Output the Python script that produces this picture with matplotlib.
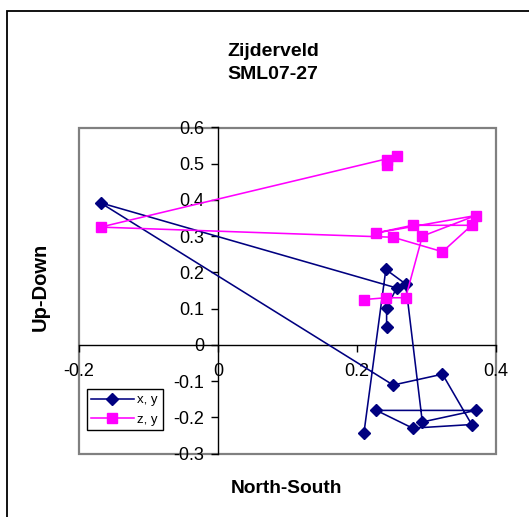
import matplotlib
matplotlib.use("Agg")
import matplotlib.pyplot as plt
from matplotlib.patches import Rectangle

plt.rcParams['font.family'] = ['Liberation Sans', 'DejaVu Sans']

# North-South component shared by both projections
north = [0.2426, 0.2426, 0.257, -0.169, 0.252, 0.323, 0.365, 0.280,
         0.228, 0.371, 0.294, 0.270, 0.2415, 0.210]
# x, y projection (horizontal)
east = [0.048, 0.102, 0.157, 0.392, -0.111, -0.081, -0.220, -0.230,
        -0.181, -0.181, -0.213, 0.168, 0.208, -0.243]
# z, y projection (vertical)
up = [0.496, 0.510, 0.520, 0.325, 0.297, 0.257, 0.330, 0.330,
      0.309, 0.357, 0.300, 0.130, 0.130, 0.125]

xticks = [-0.2, 0, 0.2, 0.4]
xlabels = ["-0.2", "0", "0.2", "0.4"]
yticks = [-0.3, -0.2, -0.1, 0, 0.1, 0.2, 0.3, 0.4, 0.5, 0.6]
ylabels = ["-0.3", "-0.2", "-0.1", "0", "0.1", "0.2", "0.3", "0.4", "0.5", "0.6"]

W, H = 529, 517
fig = plt.figure(figsize=(W / 100, H / 100), dpi=100)
ax = fig.add_axes([79 / W, 1 - 453.5 / H, (496 - 79) / W, (453.5 - 127.5) / H])

ax.plot(north, east, color='#000080', marker='D', markersize=5.8,
        linewidth=1.15, label='x, y', zorder=3)
ax.plot(north, up, color='#FF00FF', marker='s', markersize=7,
        linewidth=1.15, label='z, y', zorder=3)

ax.set_xlim(-0.2, 0.4)
ax.set_ylim(-0.3, 0.6)
ax.set_xticks(xticks)
ax.set_xticklabels(xlabels)
ax.set_yticks(yticks)
ax.set_yticklabels(ylabels)

ax.spines['left'].set_position(('data', 0))
ax.spines['bottom'].set_position(('data', 0))
ax.spines['top'].set_visible(False)
ax.spines['right'].set_visible(False)
for s in ['left', 'bottom']:
    ax.spines[s].set_color('black')
    ax.spines[s].set_linewidth(1.0)
    ax.spines[s].set_zorder(2)
ax.tick_params(axis='both', direction='out', length=5, width=1,
               labelsize=13, color='black')
ax.tick_params(axis='x', pad=8)
ax.tick_params(axis='y', pad=5)

# gray plot-area frame
ax.add_patch(Rectangle((0, 0), 1, 1, transform=ax.transAxes, fill=False,
                       edgecolor='#808080', linewidth=1.6, clip_on=False))

leg = ax.legend(loc='upper left', bbox_to_anchor=(86.7 / W, 1 - 389.3 / H),
                bbox_transform=fig.transFigure, fontsize=9.5, frameon=True,
                fancybox=False, edgecolor='black', framealpha=1,
                handlelength=3.2, borderpad=0.35, labelspacing=0.55,
                handletextpad=0.3, borderaxespad=0)
leg.get_frame().set_linewidth(1.0)

fig.text(273 / W, 1 - 56 / H, "Zijderveld", ha='center', va='baseline',
         fontsize=14, fontweight='bold')
fig.text(273 / W, 1 - 79.3 / H, "SML07-27", ha='center', va='baseline',
         fontsize=14, fontweight='bold')
fig.text(286.7 / W, 1 - 493.3 / H, "North-South", ha='center', va='baseline',
         fontsize=13.8, fontweight='bold')
fig.text(40 / W, 1 - 286.5 / H, "Up-Down", ha='center', va='center',
         rotation=90, fontsize=14.5, fontweight='bold')

# outer chart border (runs off the right and bottom edge)
fig.add_artist(Rectangle((7.3 / W, -0.2), 1.2, 1.2 - 10.7 / H,
                         transform=fig.transFigure, fill=False,
                         edgecolor='black', linewidth=1.3))

fig.savefig("out.png", dpi=100)
